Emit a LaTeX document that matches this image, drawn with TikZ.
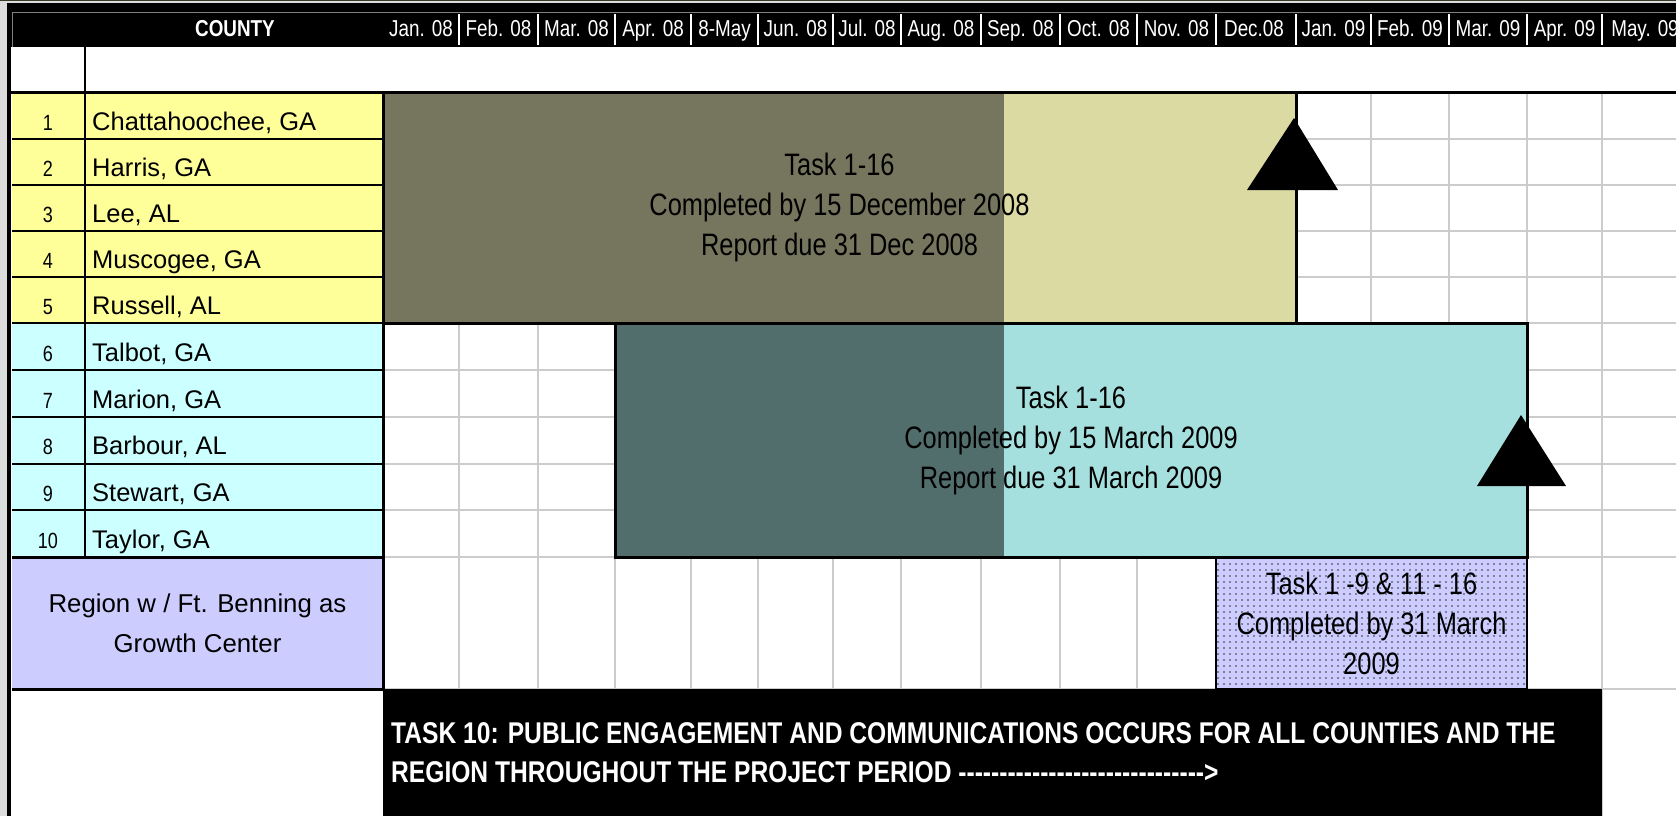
\documentclass[tikz,border=0pt]{standalone}
\usepackage{fontspec}
\setmainfont{Liberation Sans}
\newfontfamily\narrowfont[FakeStretch=0.82]{Liberation Sans}
\usetikzlibrary{patterns.meta}
\definecolor{cyel}{RGB}{255,255,153}
\definecolor{ccyan}{RGB}{204,255,255}
\definecolor{cpurp}{RGB}{204,204,255}
\definecolor{gridc}{RGB}{204,204,204}
\definecolor{sidegray}{RGB}{220,220,220}
\definecolor{topolive}{RGB}{60,60,40}
\definecolor{tAdark}{RGB}{118,118,94}
\definecolor{tAlight}{RGB}{218,218,162}
\definecolor{tBdark}{RGB}{82,110,108}
\definecolor{tBlight}{RGB}{166,224,222}
\tikzset{
  hdr/.style={text=white, font=\narrowfont\fontsize{23}{26}\selectfont, anchor=base, inner sep=0pt},
  hdrb/.style={hdr, font=\narrowfont\bfseries\fontsize{23}{26}\selectfont},
  numtxt/.style={font=\narrowfont\fontsize{22}{26}\selectfont, anchor=base, inner sep=0pt},
  nametxt/.style={font=\fontsize{25.5}{30}\selectfont, anchor=base west, inner sep=0pt},
  regtxt/.style={font=\fontsize{25.8}{40}\selectfont, align=center, inner sep=0pt},
  gridline/.style={draw=gridc, line width=2pt},
  rowline/.style={draw=black, line width=2pt},
  heavy/.style={draw=black, line width=3pt},
  hsep/.style={draw=white, line width=1.3pt},
  taskbox/.style={draw=black, line width=3pt, inner sep=0pt, outer sep=0pt, align=center,
    font=\narrowfont\fontsize{31}{40}\selectfont},
  tenbox/.style={text=white, align=left, anchor=west, inner sep=0pt,
    font=\narrowfont\bfseries\fontsize{30}{39}\selectfont},
  tri/.style={fill=black}
}
\begin{document}
\begin{tikzpicture}[x=1pt,y=-1pt]
\useasboundingbox (0,0) rectangle (1676,816);
\clip (0,0) rectangle (1676,816);
\fill[white] (0,0) rectangle (1676,816);
% outer frame and header band
\fill[sidegray] (0,0) rectangle (7,816);
\fill[topolive] (0,0) rectangle (1676,1.5);
\fill[sidegray] (7,1.5) rectangle (1676,3);
\fill[black] (7,3) rectangle (1676,47);
\draw[gray, line width=1pt] (12.5,47) -- (12.5,12.5) -- (1676,12.5);
% left table fills
\fill[cyel] (12,92) rectangle (383,323);
\fill[ccyan] (12,323) rectangle (383,557);
\fill[cpurp] (12,557) rectangle (383,689);
% chart grid
\foreach \x in {459,538,615,691,758,833,901,981,1060,1137,1216,1296,1371,1449,1527,1602}
  \draw[gridline] (\x,92) -- (\x,689);
\draw[gridline] (1602,689) -- (1602,816);
\foreach \y in {139,185,231,277,323,370,417,463.5,510,557,689}
  \draw[gridline] (383,\y) -- (1676,\y);
% task fills
\fill[tAlight] (383,92) rectangle (1296,323);
\fill[tAdark] (383,92) rectangle (1004,323);
\fill[tBlight] (615,323) rectangle (1527,557);
\fill[tBdark] (615,323) rectangle (1004,557);
\fill[cpurp] (1216,557) rectangle (1527,689);
\fill[pattern={Dots[distance=6pt,radius=0.8pt]}, pattern color=black!80] (1216,557) rectangle (1527,689);
% task 10 band
\fill[black] (383,689) rectangle (1602,816);
% left table lines
\fill[black] (7,3) rectangle (11,816);
\draw[heavy] (11,92) -- (1676,92);
\foreach \y in {139,185,231,277,323,370,417,463.5,510}
  \draw[rowline] (12,\y) -- (383,\y);
\draw[heavy] (12,557) -- (383,557);
\draw[heavy] (12,689) -- (383,689);
\draw[rowline] (85,47) -- (85,557);
\draw[heavy] (383,92) -- (383,689);
% header
\node[hdrb] (county) at (235,37) {COUNTY};
\foreach \x in {459,538,615,691,758,833,901,981,1060,1137,1216,1296,1371,1449,1527,1602}
  \draw[hsep] (\x,14) -- (\x,45);
\foreach \x/\t [count=\k] in {421/Jan. 08, 498.5/Feb. 08, 576.5/Mar. 08, 653/Apr. 08, 724.5/8-May,
   795.5/Jun. 08, 867/Jul. 08, 941/Aug. 08, 1020.5/Sep. 08, 1098.5/Oct. 08, 1176.5/Nov. 08,
   1254/Dec.08, 1333.5/Jan. 09, 1410/Feb. 09, 1488/Mar. 09, 1564.5/Apr. 09, 1645/May. 09}
  \node[hdr] (m\k) at (\x,37) {\t};
% row numbers and names
\foreach \y [count=\k] in {130,176,222,268,314,361,408,454.5,501,548}
  \node[numtxt] (n\k) at (48,\y) {\k};
\node[nametxt] (c1) at (92,130) {Chattahoochee, GA};
\node[nametxt] (c2) at (92,176) {Harris, GA};
\node[nametxt] (c3) at (92,222) {Lee, AL};
\node[nametxt] (c4) at (92,268) {Muscogee, GA};
\node[nametxt] (c5) at (92,314) {Russell, AL};
\node[nametxt] (c6) at (92,361) {Talbot, GA};
\node[nametxt] (c7) at (92,408) {Marion, GA};
\node[nametxt] (c8) at (92,454.5) {Barbour, AL};
\node[nametxt] (c9) at (92,501) {Stewart, GA};
\node[nametxt] (c10) at (92,548) {Taylor, GA};
\node[regtxt] (region) at (197.5,623) {Region w / Ft. Benning as\\Growth Center};
% task boxes
\node[taskbox, minimum width=913pt, minimum height=231pt] (tA) at (839.5,207.5)
  {Task 1-16\\Completed by 15 December 2008\\Report due 31 Dec 2008};
\node[taskbox, minimum width=912pt, minimum height=234pt] (tB) at (1071,440)
  {Task 1-16\\Completed by 15 March 2009\\Report due 31 March 2009};
\node[taskbox, line width=2pt, minimum width=311pt, minimum height=132pt] (tC) at (1371.5,623)
  {Task 1 -9 \& 11 - 16\\Completed by 31 March\\2009};
\node[tenbox] (t10) at (391,752.5)
  {TASK 10: PUBLIC ENGAGEMENT AND COMMUNICATIONS OCCURS FOR ALL COUNTIES AND THE\\
   REGION THROUGHOUT THE PROJECT PERIOD \foreach \i in {1,...,30}{-\kern0pt}>};
% milestone triangles
\coordinate (a1) at (1294,118); \coordinate (a2) at (1247,190); \coordinate (a3) at (1338,190);
\fill[tri] (a1) -- (a2) -- (a3) -- cycle;
\coordinate (b1) at (1521,415); \coordinate (b2) at (1477,486); \coordinate (b3) at (1566,486);
\fill[tri] (b1) -- (b2) -- (b3) -- cycle;
\end{tikzpicture}
\end{document}
